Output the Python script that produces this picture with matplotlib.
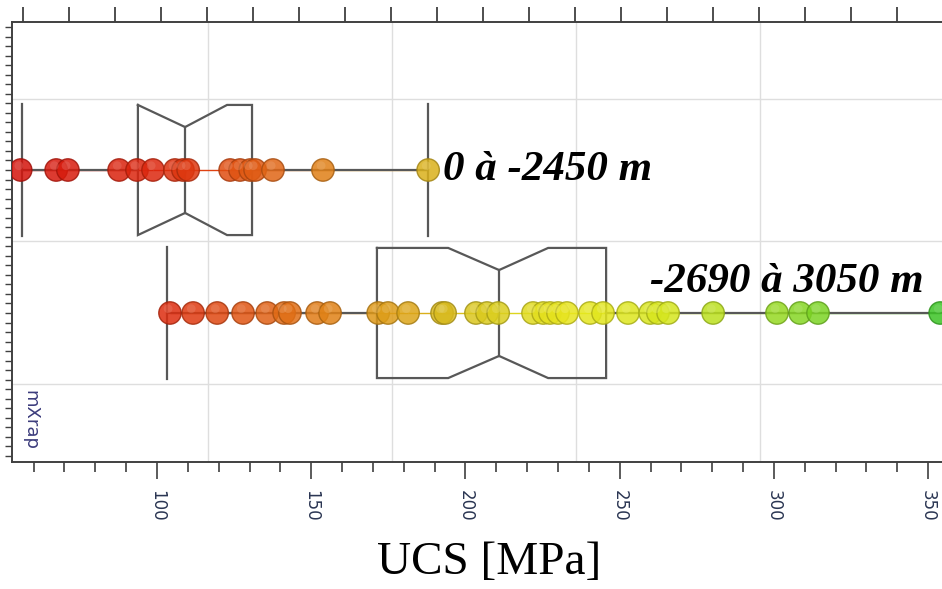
import numpy as np
import matplotlib
matplotlib.use("Agg")
import matplotlib.pyplot as plt
from matplotlib.colors import LinearSegmentedColormap, Normalize, to_rgb
from matplotlib.collections import LineCollection
from matplotlib.ticker import MultipleLocator, FixedLocator, NullFormatter

# ---------------- data ----------------
group_labels = ["0 à -2450 m", "-2690 à 3050 m"]
group_pos = [2, 1]

ucs_shallow = [55.8, 67.3, 71.1, 87.7, 93.5, 98.7, 105.8, 108.4, 110.1,
               123.7, 126.9, 130.2, 131.8, 137.6, 153.8, 187.9]
ucs_deep = [104.2, 111.7, 119.5, 127.9, 135.7, 141.2, 143.1, 151.9, 156.1,
            171.7, 174.9, 181.4, 192.4, 193.4, 203.4, 207.0, 210.6, 221.9,
            225.2, 227.4, 230.0, 232.9, 240.4, 244.6, 252.7, 259.9, 262.4,
            265.7, 280.3, 301.0, 308.5, 314.3, 353.9]

# box statistics: whislo, q1, cilo, med, cihi, q3, whishi
stats_shallow = [56.2, 93.8, 93.8, 109.1, 122.7, 130.8, 187.9]
stats_deep = [103.2, 171.3, 194.4, 210.9, 226.8, 245.6, 356.0]

x_major_ticks = [100, 150, 200, 250, 300, 350]
x_label = "UCS [MPa]"
grid_x = [116.5, 176.2, 235.9, 295.5]

# ---------------- style ----------------
W, H = 942, 589
fig = plt.figure(figsize=(W / 100, H / 100), dpi=100)
ax_left_px, ax_right_px, ax_top_px, ax_bot_px = 12, 942, 22, 462
ax = fig.add_axes([ax_left_px / W, 1 - ax_bot_px / H,
                   (ax_right_px - ax_left_px) / W, (ax_bot_px - ax_top_px) / H])

xlim = (52.98, 354.5)
ylim = (-0.042, 3.035)
ax.set_xlim(*xlim)
ax.set_ylim(*ylim)

cnodes = [(55, '#d4140c'), (100, '#dc280e'), (125, '#e05012'), (140, '#e06a16'),
          (160, '#e08816'), (180, '#dca418'), (195, '#d8bc1e'), (215, '#dcd41e'),
          (235, '#e8e61e'), (265, '#d6e61e'), (285, '#b4de1e'), (310, '#84d624'),
          (355, '#3cc426')]
lo, hi = cnodes[0][0], cnodes[-1][0]
cmap = LinearSegmentedColormap.from_list(
    "ucs", [((v - lo) / (hi - lo), c) for v, c in cnodes])
norm = Normalize(lo, hi)

grey = '#585858'
box_lw = 1.6
notch_frac = 0.66
box_w = 0.91
cap_w = 0.93

# grid
for gx in grid_x:
    ax.axvline(gx, color='#dedede', lw=1.0, zorder=0)
for gy in [0.5, 1.5, 2.5]:
    ax.axhline(gy, color='#dedede', lw=1.0, zorder=0)


def draw_box(ax, pos, st):
    whislo, q1, cilo, med, cihi, q3, whishi = st
    h = box_w / 2
    n = h * notch_frac
    xs = [q1, cilo, med, cihi, q3, q3, cihi, med, cilo, q1, q1]
    ys = [pos + h, pos + h, pos + n, pos + h, pos + h,
          pos - h, pos - h, pos - n, pos - h, pos - h, pos + h]
    ax.plot(xs, ys, color=grey, lw=box_lw, zorder=2, solid_joinstyle='miter')
    ax.plot([med, med], [pos - n, pos + n], color=grey, lw=box_lw, zorder=2)
    ax.plot([whislo, q1], [pos, pos], color=grey, lw=box_lw, zorder=2)
    ax.plot([q3, whishi], [pos, pos], color=grey, lw=box_lw, zorder=2)
    c = cap_w / 2
    ax.plot([whislo, whislo], [pos - c, pos + c], color=grey, lw=box_lw, zorder=2)
    ax.plot([whishi, whishi], [pos - c, pos + c], color=grey, lw=box_lw, zorder=2)


def draw_points(ax, pos, vals):
    v = np.sort(np.asarray(vals))
    segs = [[(v[i], pos), (v[i + 1], pos)] for i in range(len(v) - 1)]
    mids = (v[:-1] + v[1:]) / 2
    lc = LineCollection(segs, colors=cmap(norm(mids)), linewidths=1.0, zorder=1)
    ax.add_collection(lc)
    cols = cmap(norm(v))
    edges = [tuple(np.array(to_rgb(col[:3])) * 0.75) + (0.9,) for col in cols]
    ax.scatter(v, np.full_like(v, pos), s=260, c=cols, edgecolors=edges,
               linewidths=1.0, alpha=0.85, zorder=3)
    # small highlight for spherical look
    hl = [tuple(np.clip(np.array(col[:3]) * 0.6 + 0.4, 0, 1)) for col in cols]
    ax.scatter(v - 0.6, np.full_like(v, pos) + 0.03, s=40, c=hl, alpha=0.35,
               linewidths=0, zorder=4)


draw_points(ax, group_pos[0], ucs_shallow)
draw_points(ax, group_pos[1], ucs_deep)
draw_box(ax, group_pos[0], stats_shallow)
draw_box(ax, group_pos[1], stats_deep)

# annotations
tfont = dict(family='Liberation Serif', weight='bold', style='italic',
             fontsize=31, color='black')
ax.text(192.7, 1.93, group_labels[0], ha='left', va='baseline', zorder=5, **tfont)
ax.text(259.9, 1.147, group_labels[1], ha='left', va='baseline', zorder=5, **tfont)

# axes styling
ax.spines['right'].set_visible(False)
for side in ['left', 'top', 'bottom']:
    ax.spines[side].set_color('#404040')
    ax.spines[side].set_linewidth(1.4)

ax.xaxis.set_major_locator(FixedLocator(x_major_ticks))
ax.xaxis.set_minor_locator(MultipleLocator(10))
ax.tick_params(axis='x', which='major', direction='out', length=12, width=1.2,
               color='#404040', labelsize=12, labelcolor='#2a3552', pad=8,
               labelrotation=-90)
ax.tick_params(axis='x', which='minor', direction='out', length=7, width=1.2,
               color='#404040')
for lab in ax.get_xticklabels():
    lab.set_va('top')

ax.yaxis.set_major_locator(MultipleLocator(1 / 15))
ax.yaxis.set_major_formatter(NullFormatter())
ax.tick_params(axis='y', which='major', direction='out', length=5, width=1.0,
               color='#404040')

ax2 = ax.twiny()
ax2.set_xlim(*xlim)
ax2.xaxis.set_major_locator(FixedLocator(np.arange(56.55, 356, 14.92)))
ax2.xaxis.set_major_formatter(NullFormatter())
ax2.tick_params(axis='x', direction='out', length=11, width=1.3, color='#404040')
for side in ['left', 'right', 'bottom', 'top']:
    ax2.spines[side].set_visible(False)

ax.text(0.02, 0.095, "mXrap", transform=ax.transAxes, rotation=-90,
        ha='center', va='center', fontsize=13, color='#3c3c7c', zorder=5)

fig.text(489 / W, 1 - 563 / H, x_label, family='Liberation Serif', fontsize=34,
         ha='center', va='center', color='black')

fig.savefig("out.png", dpi=100)
